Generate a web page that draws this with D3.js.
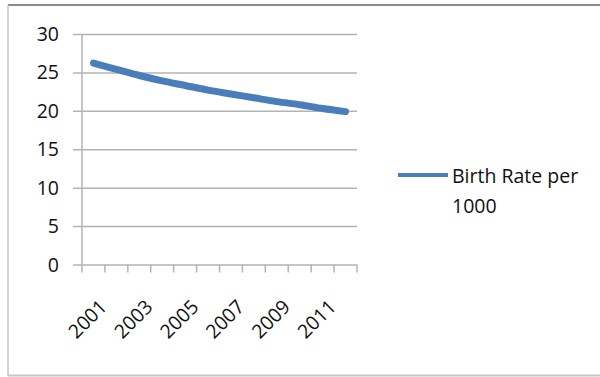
<!DOCTYPE html>
<html>
<head>
<meta charset="utf-8">
<script src="https://cdn.jsdelivr.net/npm/d3@7"></script>
<style>
  html, body { margin: 0; padding: 0; background: #fff; }
  svg { display: block; }
  text { font-family: "Open Sans", "DejaVu Sans", sans-serif; fill: #111; }
</style>
</head>
<body>
<svg id="chart" width="600" height="377"></svg>
<script>
// Birth rate per 1000 population, 2001–2012
const years = [2001, 2002, 2003, 2004, 2005, 2006, 2007, 2008, 2009, 2010, 2011, 2012];
const birthRate = [26.2, 25.4, 24.6, 23.9, 23.3, 22.7, 22.2, 21.7, 21.2, 20.8, 20.3, 19.9];
const yTicks = [0, 5, 10, 15, 20, 25, 30];
const xLabelYears = [2001, 2003, 2005, 2007, 2009, 2011];
const seriesName = ["Birth Rate per", "1000"];

const svg = d3.select("#chart");
const lineColor = "#4a7ebb";
const gridColor = "#b3b3b3";
const fontSize = 19.5;

// chart frame
svg.append("line").attr("x1", 8).attr("x2", 600).attr("y1", 5).attr("y2", 5)
  .attr("stroke", "#8a8a8a").attr("stroke-width", 2);
svg.append("line").attr("x1", 8).attr("x2", 8).attr("y1", 5).attr("y2", 376)
  .attr("stroke", "#c4c4c4").attr("stroke-width", 1.5);
svg.append("line").attr("x1", 8).attr("x2", 600).attr("y1", 375.5).attr("y2", 375.5)
  .attr("stroke", "#c8c8c8").attr("stroke-width", 2);

const plot = { left: 82, right: 357, top: 34, bottom: 264.5 };

const x = d3.scaleBand().domain(years).range([plot.left, plot.right]);
const y = d3.scaleLinear().domain([0, 30]).range([plot.bottom, plot.top]);

// horizontal gridlines with outside tick stubs
const yAxis = d3.axisLeft(y).tickValues(yTicks)
  .tickSize(-(plot.right - plot.left + 9)).tickFormat("");
const gy = svg.append("g").attr("transform", `translate(${plot.left - 9},0)`).call(yAxis);
gy.select(".domain").remove();
gy.selectAll(".tick line").attr("stroke", gridColor).attr("stroke-width", 1.5);

// y labels
svg.append("g").selectAll("text").data(yTicks).join("text")
  .attr("x", 59)
  .attr("y", d => y(d))
  .attr("dy", "0.36em")
  .attr("text-anchor", "end")
  .attr("font-size", fontSize)
  .text(d => d);

// vertical axis line
svg.append("line").attr("x1", plot.left).attr("x2", plot.left)
  .attr("y1", plot.top).attr("y2", plot.bottom)
  .attr("stroke", gridColor).attr("stroke-width", 1.5);

// category axis with boundary tick marks
const boundaries = years.map(d => x(d)).concat([plot.right]);
svg.append("g").selectAll("line").data(boundaries).join("line")
  .attr("x1", d => d).attr("x2", d => d)
  .attr("y1", plot.bottom).attr("y2", plot.bottom + 8)
  .attr("stroke", gridColor).attr("stroke-width", 1.5);

// category labels, every other year, rotated
svg.append("g").selectAll("text").data(xLabelYears).join("text")
  .attr("transform", d => `translate(${x(d) + x.bandwidth() / 2 + 5},${plot.bottom + 34}) rotate(-45)`)
  .attr("text-anchor", "end")
  .attr("dy", "0.7em")
  .attr("font-size", fontSize)
  .text(d => d);

// series line
const line = d3.line()
  .x((d, i) => x(years[i]) + x.bandwidth() / 2)
  .y(d => y(d))
  .curve(d3.curveCatmullRom.alpha(0.5));

svg.append("path").datum(birthRate)
  .attr("d", line)
  .attr("fill", "none")
  .attr("stroke", lineColor)
  .attr("stroke-width", 7)
  .attr("stroke-linecap", "round")
  .attr("stroke-linejoin", "round");

// legend
const lg = svg.append("g").attr("transform", "translate(398,175)");
lg.append("line").attr("x1", 0).attr("x2", 50).attr("y1", 0).attr("y2", 0)
  .attr("stroke", lineColor).attr("stroke-width", 4);
lg.selectAll("text").data(seriesName).join("text")
  .attr("x", 54)
  .attr("y", (d, i) => 8 + i * 30)
  .attr("font-size", fontSize)
  .text(d => d);
</script>
</body>
</html>
